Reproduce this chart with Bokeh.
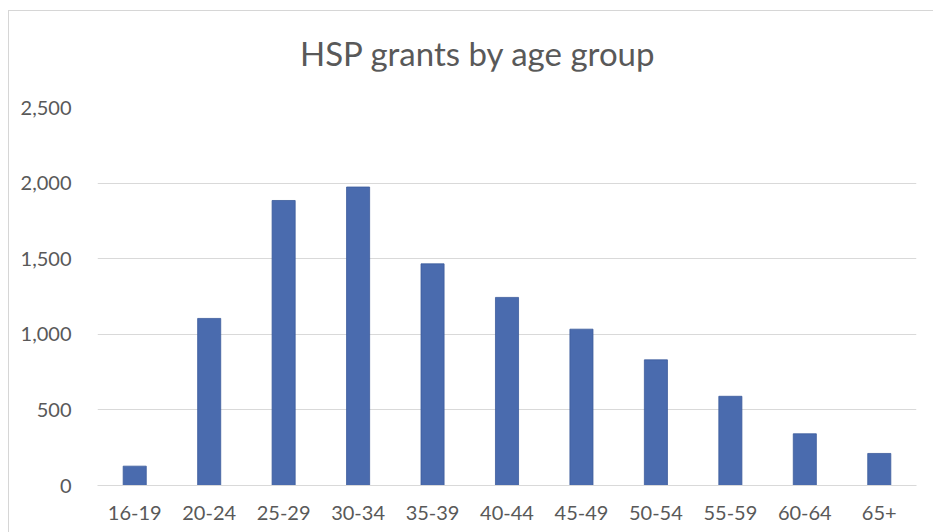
from bokeh.plotting import figure
from bokeh.models import Range1d, NumeralTickFormatter, FixedTicker, Div
from bokeh.embed import file_html
from bokeh.resources import INLINE
from bokeh.layouts import column

# HSP grants per age group
age_groups = ["16-19", "20-24", "25-29", "30-34", "35-39", "40-44",
              "45-49", "50-54", "55-59", "60-64", "65+"]
grants = [128, 1105, 1885, 1974, 1466, 1244, 1034, 831, 590, 342, 212]
y_ticks = [0, 500, 1000, 1500, 2000, 2500]
chart_title = "HSP grants by age group"

FONT = "Lato"
TEXT = "#595959"
GRID = "#d9d9d9"
BAR = "#4a6bae"

TITLE_H = 60

# title strip above the plot
title = Div(
    text=(f'<div style="font-family:{FONT};font-size:33px;line-height:40px;'
          f'color:{TEXT};padding-left:291px;padding-top:22px;'
          f'white-space:nowrap;">{chart_title}</div>'),
    width=924, height=TITLE_H, margin=0,
)

p = figure(
    x_range=age_groups,
    y_range=Range1d(0, 2500),
    width=924, height=521 - TITLE_H,
    output_backend="svg", toolbar_location=None,
    min_border_left=88, min_border_right=17,
    min_border_top=96 - TITLE_H, min_border_bottom=47,
    background_fill_color="white", border_fill_color="white",
    margin=0,
)
p.outline_line_color = None

p.vbar(x=age_groups, top=grants, width=0.31,
       fill_color=BAR, line_color="#3c5c9c", line_width=0.8)

# axes
p.yaxis.ticker = FixedTicker(ticks=y_ticks)
p.yaxis.formatter = NumeralTickFormatter(format="0,0")
p.yaxis.axis_line_color = None
p.yaxis.major_tick_line_color = None
p.yaxis.minor_tick_line_color = None
p.yaxis.major_label_standoff = 20
p.yaxis.major_label_text_font = FONT
p.yaxis.major_label_text_font_size = "20px"
p.yaxis.major_label_text_color = TEXT

p.xaxis.axis_line_color = GRID
p.xaxis.axis_line_width = 1.2
p.xaxis.major_tick_line_color = None
p.xaxis.minor_tick_line_color = None
p.xaxis.major_label_standoff = 14
p.xaxis.major_label_text_font = FONT
p.xaxis.major_label_text_font_size = "20px"
p.xaxis.major_label_text_color = TEXT

p.xgrid.grid_line_color = None
p.ygrid.grid_line_color = GRID
p.ygrid.grid_line_width = 1.2

layout = column(
    title, p,
    margin=(10, 0, 0, 8),
    styles={"border-left": "1px solid #d6d6d6",
            "border-top": "1px solid #d6d6d6",
            "background-color": "white"},
)
open("out.html", "w").write(file_html(layout, INLINE))
